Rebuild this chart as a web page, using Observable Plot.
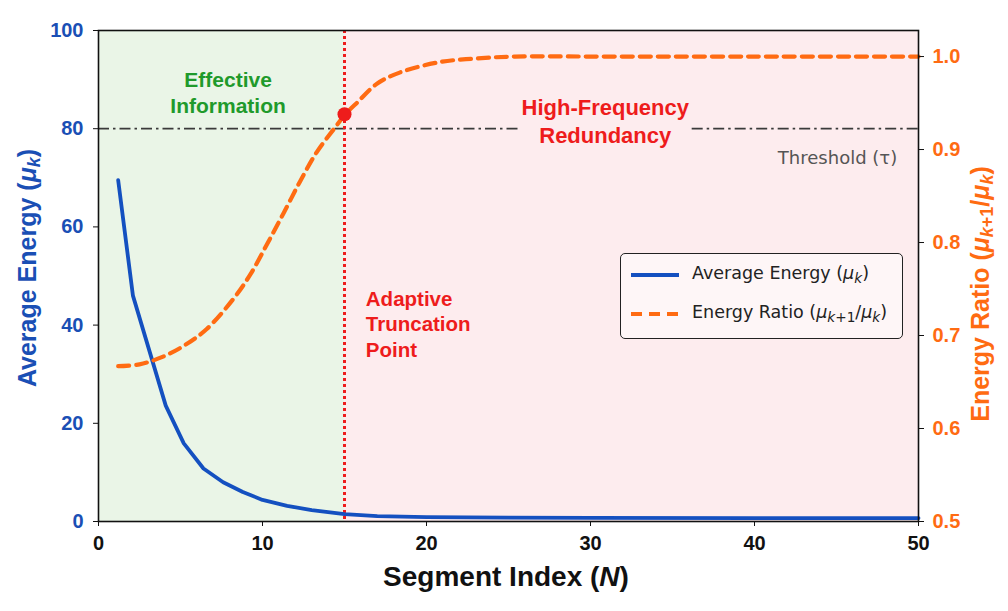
<!DOCTYPE html>
<html>
<head>
<meta charset="utf-8">
<script src="https://cdn.jsdelivr.net/npm/d3@7"></script>
<script src="https://cdn.jsdelivr.net/npm/@observablehq/plot@0.6"></script>
<style>
  html, body { margin: 0; padding: 0; background: white; }
  #wrap { position: relative; width: 1008px; height: 611px; overflow: hidden; }
  .alabel { position: absolute; font-family: "Liberation Sans", Arial, sans-serif; font-weight: bold; white-space: nowrap; }
  .alabel sub { font-size: 0.72em; vertical-align: -0.25em; }
  #legend { position: absolute; left: 620px; top: 253px; width: 281px; height: 84px; border: 1.5px solid #222; border-radius: 5px; background: rgba(255,255,255,0.55); font-family: "DejaVu Sans", sans-serif; font-size: 17.5px; color: #222; }
  #legend .row { position: absolute; left: 10px; display: flex; align-items: center; }
  #legend svg { margin-right: 13px; }
  #legend sub { font-size: 0.78em; vertical-align: -0.3em; }
</style>
</head>
<body>
<div id="wrap"></div>
<script>
// ---- data ----
const energyX = [1.2, 2.1, 4.1, 5.2, 6.4, 7.6, 8.8, 10, 11.5, 13, 15, 17, 20, 25, 30, 40, 50];
const energyY = [69.5, 46, 23.6, 15.9, 10.8, 8.0, 6.0, 4.4, 3.2, 2.3, 1.5, 1.1, 0.9, 0.8, 0.75, 0.7, 0.7];

const ratioX = [1.2, 2.5, 3.9, 5.3, 6.6, 8.25, 9.27, 10.3, 11.3, 12.3, 13.3, 14.35, 15.06, 15.8, 17, 18.4, 20.8, 23.1, 25.4, 30, 40, 50];
const ratioY = [0.667, 0.669, 0.677, 0.690, 0.707, 0.740, 0.766, 0.799, 0.832, 0.866, 0.897, 0.922, 0.938, 0.951, 0.971, 0.983, 0.994, 0.998, 1.0, 1.0, 1.0, 1.0];

const xTicks = [0, 10, 20, 30, 40, 50];
const energyTicks = [0, 20, 40, 60, 80, 100];
const ratioTicks = [0.5, 0.6, 0.7, 0.8, 0.9, 1.0];

const truncationN = 15;
const truncationRatio = 0.938;
const thresholdEnergy = 80;

const regionNames = ["Effective Information", "High-Frequency Redundancy"];
const regionStart = [0, 15];
const regionEnd = [15, 50];

const annotationText = ["Effective\nInformation", "High-Frequency\nRedundancy", "Adaptive\nTruncation\nPoint", "Threshold (τ)"];
const annotationX = [7.9, 30.9, 16.3, 48.7];
const annotationY = [87.6, 81.7, 40.4, 73.9];

const thresholdGapStart = 25.7;
const thresholdGapEnd = 36.2;

// ---- scales linking the two y axes ----
const ratioDomain = [0.5, 1.028];
const r2y = d3.scaleLinear(ratioDomain, [0, 100]);

const BLUE = "#1450c0", BLUE_T = "#1a4fb5", ORANGE = "#ff6b12", RED = "#ee1c1c", GREEN = "#1f9a2b";

const energy = energyX.map((x, i) => ({x, y: energyY[i]}));
const ratio = ratioX.map((x, i) => ({x, y: r2y(ratioY[i])}));
const regions = regionNames.map((name, i) => ({name, x1: regionStart[i], x2: regionEnd[i]}));
const annotations = annotationText.map((t, i) => ({t, x: annotationX[i], y: annotationY[i]}));
const thresholdSegs = [{x1: 0, x2: thresholdGapStart}, {x1: thresholdGapEnd, x2: 50}];

const tickFont = {fontSize: 20, fontWeight: "bold", fontFamily: "Liberation Sans, Arial, sans-serif"};

const chart = Plot.plot({
  width: 1008,
  height: 611,
  marginTop: 30,
  marginRight: 90,
  marginBottom: 90,
  marginLeft: 98,
  style: {background: "white", fontFamily: "Liberation Sans, Arial, sans-serif"},
  x: {domain: [0, 50]},
  y: {domain: [0, 100]},
  marks: [
    Plot.rect(regions, {x1: "x1", x2: "x2", y1: 0, y2: 100, fill: (d, i) => i === 0 ? "#eaf5e7" : "#fdecee"}),
    Plot.ruleY(thresholdSegs, {y: thresholdEnergy, x1: "x1", x2: "x2", stroke: "#3a3a3a", strokeWidth: 1.8, strokeDasharray: "11,4,2.5,4"}),
    Plot.ruleX([truncationN], {stroke: RED, strokeWidth: 3, strokeDasharray: "3,3"}),
    Plot.line(energy, {x: "x", y: "y", stroke: BLUE, strokeWidth: 3.8}),
    Plot.line(ratio, {x: "x", y: "y", stroke: ORANGE, strokeWidth: 4.2, strokeDasharray: "11,7", curve: "catmull-rom"}),
    Plot.dot([{x: truncationN, y: r2y(truncationRatio)}], {x: "x", y: "y", r: 7, fill: RED}),
    Plot.text([annotations[0]], {x: "x", y: "y", text: "t", fill: GREEN, fontSize: 21, fontWeight: "bold", lineHeight: 1.25, textAnchor: "middle"}),
    Plot.text([annotations[1]], {x: "x", y: "y", text: "t", fill: RED, fontSize: 22, fontWeight: "bold", lineHeight: 1.27, textAnchor: "middle"}),
    Plot.text([annotations[2]], {x: "x", y: "y", text: "t", fill: RED, fontSize: 20.5, fontWeight: "bold", lineHeight: 1.25, textAnchor: "start"}),
    Plot.text([annotations[3]], {x: "x", y: "y", text: "t", fill: "#555", fontSize: 18, fontFamily: "DejaVu Sans, sans-serif", textAnchor: "end"}),
    Plot.frame({stroke: "#111", strokeWidth: 1.6}),
    Plot.axisX({ticks: xTicks, tickSize: 5, tickPadding: 9, label: null, fill: "#111", stroke: "#111", ...tickFont}),
    Plot.axisY({anchor: "left", ticks: energyTicks, tickSize: 5, tickPadding: 10, label: null, fill: BLUE_T, stroke: "#111", ...tickFont}),
    Plot.axisY({anchor: "right", ticks: ratioTicks.map(r2y), tickFormat: d => r2y.invert(d).toFixed(1), tickSize: 5, tickPadding: 9, label: null, fill: ORANGE, stroke: "#111", ...tickFont})
  ]
});

const wrap = document.getElementById("wrap");
wrap.appendChild(chart);

function addLabel(html, cx, cy, size, color, rot) {
  const el = document.createElement("div");
  el.className = "alabel";
  el.innerHTML = html;
  el.style.fontSize = size + "px";
  el.style.color = color;
  el.style.left = cx + "px";
  el.style.top = cy + "px";
  el.style.transform = `translate(-50%, -50%) rotate(${rot}deg)`;
  wrap.appendChild(el);
}
addLabel("Average Energy (<i>μ</i><sub><i>k</i></sub>)", 29, 268, 25, BLUE_T, -90);
addLabel("Energy Ratio (<i>μ</i><sub><i>k</i>+1</sub>/<i>μ</i><sub><i>k</i></sub>)", 982, 294, 25, ORANGE, -90);
addLabel("Segment Index (<i>N</i>)", 506, 577, 28, "#111", 0);

const legend = document.createElement("div");
legend.id = "legend";
legend.innerHTML = `
  <div class="row" style="top:9px"><svg width="48" height="22"><line x1="0" x2="48" y1="11" y2="11" stroke="${BLUE}" stroke-width="3.8"/></svg><span>Average Energy (<i>μ</i><sub><i>k</i></sub>)</span></div>
  <div class="row" style="top:48px"><svg width="48" height="22"><line x1="0" x2="48" y1="11" y2="11" stroke="${ORANGE}" stroke-width="3.8" stroke-dasharray="11,7"/></svg><span>Energy Ratio (<i>μ</i><sub><i>k</i>+1</sub>/<i>μ</i><sub><i>k</i></sub>)</span></div>`;
wrap.appendChild(legend);
</script>
</body>
</html>
